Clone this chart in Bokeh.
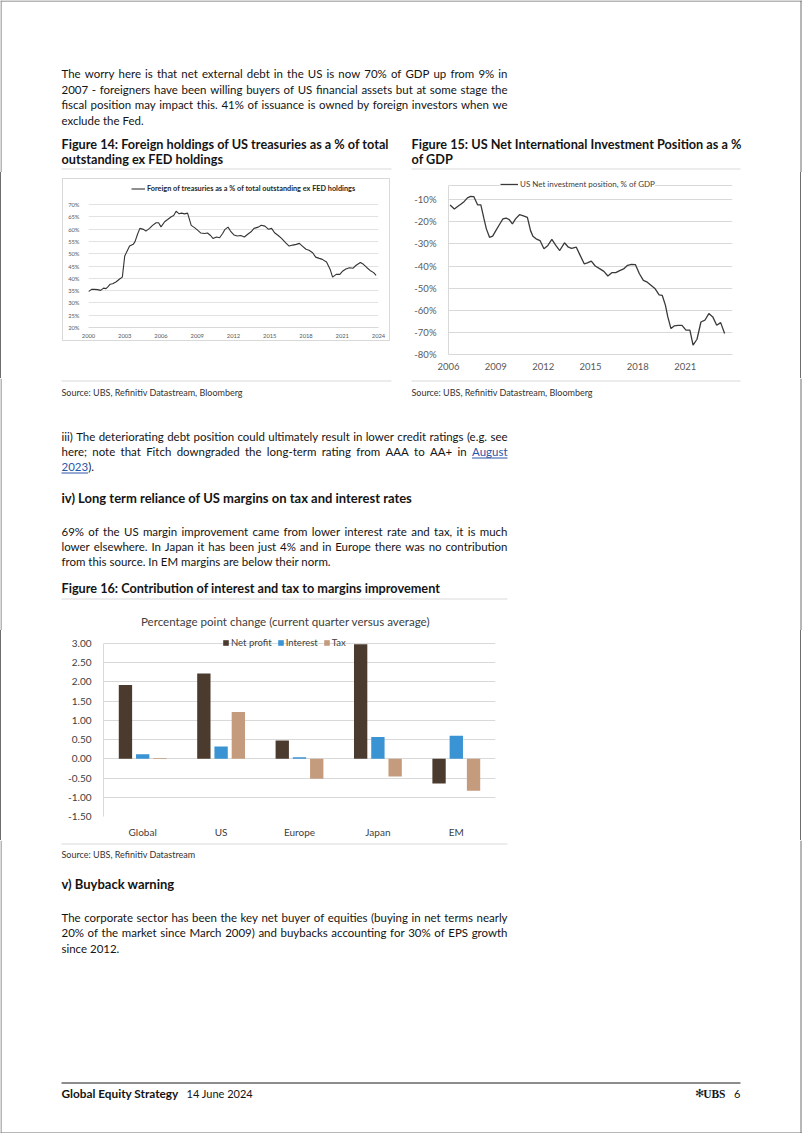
import glob
import subprocess

from bokeh.plotting import figure
from bokeh.models import (Range1d, FactorRange, FixedTicker, PrintfTickFormatter,
                          NumeralTickFormatter, Span, Spacer, Legend, LegendItem,
                          ColumnDataSource)
from bokeh.layouts import column, row
from bokeh.transform import dodge
from bokeh.core.properties import value
from bokeh.embed import file_html
from bokeh.resources import INLINE

# ---------------- data ----------------
# Figure 14: Foreign holdings of US treasuries, % of total outstanding ex Fed
fh_year = [2000.0, 2000.25, 2000.5, 2000.75, 2001.0, 2001.25, 2001.45, 2001.6, 2001.8, 2002.0,
           2002.3, 2002.55, 2002.8, 2003.0, 2003.2, 2003.4, 2003.7, 2003.85, 2004.05, 2004.25,
           2004.55, 2004.75, 2005.05, 2005.3, 2005.6, 2005.8, 2006.0, 2006.3, 2006.55, 2006.85,
           2007.05, 2007.25, 2007.5, 2007.7, 2007.95, 2008.2, 2008.5, 2008.8, 2009.05, 2009.3,
           2009.6, 2009.85, 2010.1, 2010.3, 2010.6, 2010.85, 2011.1, 2011.3, 2011.55, 2011.75,
           2012.05, 2012.3, 2012.6, 2012.9, 2013.15, 2013.45, 2013.7, 2014.05, 2014.3, 2014.6,
           2014.9, 2015.15, 2015.4, 2015.7, 2016.0, 2016.3, 2016.6, 2016.9, 2017.2, 2017.45,
           2017.7, 2018.0, 2018.25, 2018.55, 2018.8, 2019.1, 2019.35, 2019.7, 2020.0, 2020.2,
           2020.5, 2020.8, 2021.05, 2021.3, 2021.6, 2021.9, 2022.15, 2022.5, 2022.75, 2023.05,
           2023.3, 2023.6, 2023.8]
fh_pct = [34.6, 35.5, 35.5, 35.4, 35.1, 36.0, 35.8, 36.5, 37.6, 37.8,
          38.6, 39.6, 40.5, 49.1, 51.1, 53.1, 53.8, 54.9, 57.8, 60.3,
          59.9, 59.2, 60.3, 61.5, 62.6, 62.6, 60.9, 63.0, 63.9, 65.0,
          65.5, 67.3, 66.2, 66.5, 66.2, 66.5, 61.5, 60.5, 59.5, 58.4,
          58.2, 58.4, 57.4, 56.2, 56.8, 56.5, 58.2, 59.9, 60.8, 59.2,
          57.6, 57.2, 57.4, 56.8, 57.8, 58.9, 60.3, 60.8, 61.6, 61.2,
          59.9, 60.3, 58.5, 57.4, 56.1, 54.5, 53.1, 53.5, 53.8, 54.2,
          53.1, 51.8, 51.4, 50.4, 48.6, 48.1, 47.7, 46.6, 43.6, 40.5,
          41.6, 41.6, 43.0, 43.8, 44.3, 44.1, 45.3, 46.4, 45.7, 44.3,
          43.2, 42.3, 41.2]
fh_xticks = [2000, 2003, 2006, 2009, 2012, 2015, 2018, 2021, 2024]
fh_yticks = [20, 25, 30, 35, 40, 45, 50, 55, 60, 65, 70]
fh_label = "Foreign of treasuries as a % of total outstanding ex FED holdings"

# Figure 15: US Net International Investment Position, % of GDP
niip_year = [2006.1, 2006.37, 2006.6, 2006.8, 2007.0, 2007.2, 2007.4, 2007.6, 2007.85, 2008.05,
             2008.25, 2008.4, 2008.6, 2008.8, 2009.0, 2009.25, 2009.45, 2009.65, 2009.85, 2010.05,
             2010.25, 2010.5, 2010.75, 2011.0, 2011.2, 2011.35, 2011.55, 2011.8, 2012.05, 2012.3,
             2012.55, 2012.8, 2013.05, 2013.35, 2013.6, 2013.8, 2014.1, 2014.3, 2014.6, 2014.8,
             2015.05, 2015.3, 2015.6, 2015.85, 2016.1, 2016.35, 2016.6, 2016.85, 2017.1, 2017.35,
             2017.6, 2017.85, 2018.1, 2018.35, 2018.6, 2018.85, 2019.1, 2019.35, 2019.55, 2019.75,
             2019.9, 2020.1, 2020.3, 2020.55, 2020.8, 2021.05, 2021.3, 2021.5, 2021.75, 2022.0,
             2022.25, 2022.5, 2022.75, 2023.0, 2023.25, 2023.5]
niip_pct = [-12.4, -14.2, -13.0, -12.0, -10.8, -9.2, -8.5, -8.6, -12.4, -12.4,
            -18.7, -23.2, -27.0, -26.5, -24.0, -21.0, -18.7, -18.3, -19.0, -21.0,
            -18.7, -16.8, -17.3, -18.0, -24.0, -26.5, -27.7, -28.5, -32.2, -30.7,
            -28.0, -30.7, -33.0, -29.5, -31.5, -32.0, -31.5, -34.5, -39.0, -38.6,
            -37.8, -40.0, -41.3, -42.4, -44.5, -43.0, -43.0, -42.1, -41.3, -39.7,
            -39.3, -39.4, -43.5, -46.5, -47.3, -48.8, -50.3, -53.0, -53.3, -57.8,
            -63.0, -68.3, -67.1, -66.8, -66.8, -69.0, -69.0, -75.8, -73.1, -65.3,
            -64.5, -61.5, -63.0, -66.8, -65.6, -70.5]
niip_xticks = [2006, 2009, 2012, 2015, 2018, 2021]
niip_yticks = [-80, -70, -60, -50, -40, -30, -20, -10]
niip_label = "US Net investment position, % of GDP"

# Figure 16: contribution of interest and tax to margins improvement (pp)
regions = ["Global", "US", "Europe", "Japan", "EM"]
net_profit = [1.92, 2.22, 0.48, 2.98, -0.64]
interest = [0.12, 0.32, 0.04, 0.57, 0.60]
tax = [0.02, 1.22, -0.52, -0.46, -0.83]
m_yticks = [-1.5, -1.0, -0.5, 0.0, 0.5, 1.0, 1.5, 2.0, 2.5, 3.0]
m_title = "Percentage point change (current quarter versus average)"

# ---------------- page text ----------------
p1_lines = ["The worry here is that net external debt in the US is now 70% of GDP up from 9% in",
            "2007 - foreigners have been willing buyers of US financial assets but at some stage the",
            "fiscal position may impact this. 41% of issuance is owned by foreign investors when we",
            "exclude the Fed."]
p2_lines = ["iii) The deteriorating debt position could ultimately result in lower credit ratings (e.g. see",
            "here; note that Fitch downgraded the long-term rating from AAA to AA+ in August",
            "2023)."]
p3_lines = ["69% of the US margin improvement came from lower interest rate and tax, it is much",
            "lower elsewhere. In Japan it has been just 4% and in Europe there was no contribution",
            "from this source. In EM margins are below their norm."]
p4_lines = ["The corporate sector has been the key net buyer of equities (buying in net terms nearly",
            "20% of the market since March 2009) and buybacks accounting for 30% of EPS growth",
            "since 2012."]

# ---------------- styles ----------------
FONT = "Lato"
BODY = "#141414"
GRID = "#d9d9d9"
TICK = "#595959"
C_NP = "#4b3a2e"
C_INT = "#3a93d2"
C_TAX = "#c49b7c"
LINK = "#2a56a8"
EDGE = "#6e6e6e"
HS = "12.7px"    # figure-title size
SS = "13px"      # section heading size
W = 802
X0, X1 = 61, 507


def find_font(name, fname):
    try:
        from PIL import ImageFont
    except Exception:
        return None
    paths = []
    try:
        out = subprocess.run(["fc-match", "-f", "%{file}", name + ":style=Regular"],
                             capture_output=True, text=True, timeout=10).stdout.strip()
        if out and name.lower() in out.lower():
            paths.append(out)
    except Exception:
        pass
    for d in ("/usr/share/fonts", "/usr/local/share/fonts"):
        paths += glob.glob(d + "/**/" + fname, recursive=True)
    for pth in paths:
        try:
            return ImageFont.truetype(pth, 1000)
        except Exception:
            pass
    return None


METRIC = find_font("Lato", "Lato-Regular.ttf")


def tw(s, fs):
    if METRIC is None:
        return len(s) * 0.5 * fs
    return METRIC.getlength(s) * fs / 1000.0


# body size: largest size (<= 12px) at which every justified line fits the column
just_lines = p1_lines[:3] + p2_lines[:2] + p3_lines[:2] + p4_lines[:2]
if METRIC is not None:
    BFS = min([12.0] + [(X1 - X0 - 6) / tw(s, 1.0) for s in just_lines])
else:
    BFS = 11.5
BS = "%.2fpx" % BFS


def text_fig(y0, y1):
    p = figure(width=W, height=y1 - y0, x_range=Range1d(0, W), y_range=Range1d(y1, y0),
               x_axis_type=None, y_axis_type=None, toolbar_location=None,
               output_backend="svg", min_border=0, outline_line_color=None)
    p.background_fill_color = "white"
    p.border_fill_color = "white"
    # page edge
    p.segment(x0=[0.5, W - 1.5], y0=[y0, y0], x1=[0.5, W - 1.5], y1=[y1, y1],
              line_color=EDGE, line_width=1)
    return p


def put(p, x, y, s, size=None, bold=False, color=BODY, align="left", font=FONT):
    p.text(x=[x], y=[y], text=[s], text_font=value(font), text_font_size=size or BS,
           text_font_style="bold" if bold else "normal", text_color=color,
           text_align=align, text_baseline="middle")


def hline(p, x0, x1, y, color=GRID, w=1):
    p.segment(x0=[x0], y0=[y], x1=[x1], y1=[y], line_color=color, line_width=w)


def jline(p, y, s, last_color=BODY):
    words = s.split(" ")
    ws = [tw(w, BFS) for w in words]
    gap = (X1 - X0 - sum(ws)) / (len(words) - 1)
    xs, x = [], X0
    for w in ws:
        xs.append(x)
        x += w + gap
    p.text(x=xs[:-1], y=[y] * (len(words) - 1), text=words[:-1], text_font=value(FONT),
           text_font_size=BS, text_color=BODY, text_align="left", text_baseline="middle")
    put(p, X1, y, words[-1], align="right", color=last_color)
    return ws[-1]


def gline(w, h, color=GRID):
    return Spacer(width=w, height=h, styles={"background-color": color})


def style_axes(p, size, color=TICK):
    for ax in (p.xaxis, p.yaxis):
        ax.major_tick_line_color = None
        ax.minor_tick_line_color = None
        ax.major_label_text_font = FONT
        ax.major_label_text_font_size = size
        ax.major_label_text_color = color


def legend_style(**kw):
    base = dict(padding=0, margin=0, border_line_color=None, background_fill_alpha=0,
                spacing=0, label_text_font=FONT)
    base.update(kw)
    return base


# ---------------- text block 1 ----------------
t1 = text_fig(0, 172)
hline(t1, 0, W, 0.5, color=EDGE)
for yy, s in zip([73, 89, 104], p1_lines[:3]):
    jline(t1, yy, s)
put(t1, X0, 120, p1_lines[3])
put(t1, 61, 143, "Figure 14: Foreign holdings of US  treasuries as a % of total", size=HS, bold=True)
put(t1, 61, 158, "outstanding ex FED holdings", size=HS, bold=True)
put(t1, 411, 143, "Figure 15: US Net International Investment Position as a %", size=HS, bold=True)
put(t1, 411, 158, "of GDP", size=HS, bold=True)
hline(t1, 61, 391, 168.5)
hline(t1, 411, 740, 168.5)

# ---------------- Figure 14 ----------------
# canvas = page (63..388, 179..339); frame x 88..377, 20% at y=327
p14 = figure(width=326, height=161, x_range=Range1d(2000, 2024), y_range=Range1d(20, 79.35),
             toolbar_location=None, output_backend="svg", outline_line_color=None,
             min_border_left=25, min_border_right=11, min_border_top=2, min_border_bottom=12)
r14 = p14.line(fh_year, fh_pct, line_color="#333333", line_width=1.1)
p14.xaxis.ticker = FixedTicker(ticks=fh_xticks)
p14.yaxis.ticker = FixedTicker(ticks=fh_yticks)
p14.yaxis.formatter = PrintfTickFormatter(format="%d%%")
style_axes(p14, "5.8px")
p14.xaxis.axis_line_color = GRID
p14.yaxis.axis_line_color = None
p14.xaxis.major_label_standoff = 0
p14.yaxis.major_label_standoff = 3
p14.xgrid.grid_line_color = None
p14.ygrid.grid_line_color = "#e2e2e2"
p14.add_layout(Legend(items=[LegendItem(label=fh_label, renderers=[r14])], location=(43, 134),
                      **legend_style(glyph_width=14, glyph_height=9, label_height=9,
                                     label_standoff=2, label_text_font_size="7.3px",
                                     label_text_font_style="bold", label_text_color="#262626")))

box14 = column(gline(328, 1),
               row(gline(1, 161), p14, gline(1, 161)),
               gline(328, 1))
col14 = column(Spacer(width=328, height=6), box14, Spacer(width=328, height=37))

# ---------------- Figure 15 ----------------
# canvas = page (411..740, 172..378); frame x 439..731, y 176..354 (-80%)
p15 = figure(width=330, height=206, x_range=Range1d(2006, 2024), y_range=Range1d(-80, 0.47),
             toolbar_location=None, output_backend="svg", outline_line_color=None,
             min_border_left=28, min_border_right=9, min_border_top=4, min_border_bottom=24)
r15 = p15.line(niip_year, niip_pct, line_color="#3a3a3a", line_width=1.3)
p15.xaxis.ticker = FixedTicker(ticks=niip_xticks)
p15.yaxis.ticker = FixedTicker(ticks=niip_yticks)
p15.yaxis.formatter = PrintfTickFormatter(format="%d%%")
style_axes(p15, "9.5px")
p15.xaxis.axis_line_color = GRID
p15.yaxis.axis_line_color = GRID
p15.yaxis.bounds = (-80, -3.6)
p15.xaxis.major_label_standoff = 2
p15.yaxis.major_label_standoff = 6
p15.xgrid.grid_line_color = None
p15.ygrid.grid_line_color = GRID
p15.add_layout(Span(location=-3.6, dimension="width", line_color=GRID, line_width=1))
p15.add_layout(Legend(items=[LegendItem(label=niip_label, renderers=[r15])], location=(52, 165),
                      **legend_style(glyph_width=18, glyph_height=10, label_height=10,
                                     label_standoff=2, label_text_font_size="8px",
                                     label_text_color="#404040",
                                     background_fill_color="white", background_fill_alpha=1)))

charts_row = row(gline(1, 206, EDGE), Spacer(width=61, height=206), col14,
                 Spacer(width=21, height=206), p15, Spacer(width=59, height=206),
                 gline(1, 206, EDGE), Spacer(width=1, height=206))

# ---------------- text block 2 ----------------
t2 = text_fig(378, 630)
hline(t2, 61, 391, 380.5)
hline(t2, 411, 740, 380.5)
put(t2, 61, 392, "Source: UBS, Refinitiv Datastream, Bloomberg", size="9px", color="#333333")
put(t2, 411, 392, "Source: UBS, Refinitiv Datastream, Bloomberg", size="9px", color="#333333")
jline(t2, 436, p2_lines[0])
wa = jline(t2, 451, p2_lines[1], last_color=LINK)
hline(t2, X1 - wa, X1, 457.5, color=LINK)
w23 = tw("2023", BFS)
put(t2, X0, 466, "2023", color=LINK)
hline(t2, X0, X0 + w23, 472.5, color=LINK)
put(t2, X0 + w23, 466, ").")
put(t2, 61, 497, "iv) Long term reliance of US margins on tax and interest rates", size=SS, bold=True)
for yy, s in zip([531, 546], p3_lines[:2]):
    jline(t2, yy, s)
put(t2, X0, 561, p3_lines[2])
put(t2, 61, 587, "Figure 16: Contribution of interest and tax to margins improvement", size=HS, bold=True)
hline(t2, 61, 507, 598.5)
put(t2, 285, 621, m_title, size="11.6px", color="#404040", align="center")

# ---------------- Figure 16 ----------------
# canvas = page (61..506, 630..840); frame x 103..495, 3.00 at 643, -1.50 at 816
src = ColumnDataSource(dict(region=regions, net_profit=net_profit, interest=interest, tax=tax))
p16 = figure(width=446, height=210, x_range=FactorRange(factors=regions), y_range=Range1d(-1.5, 3.338),
             toolbar_location=None, output_backend="svg", outline_line_color=None,
             min_border_left=42, min_border_right=12, min_border_top=0, min_border_bottom=24)
b1 = p16.vbar(x=dodge("region", -0.22, range=p16.x_range), top="net_profit", bottom=0, width=0.17,
              source=src, fill_color=C_NP, line_color=None)
b2 = p16.vbar(x=dodge("region", 0.0, range=p16.x_range), top="interest", bottom=0, width=0.17,
              source=src, fill_color=C_INT, line_color=None)
b3 = p16.vbar(x=dodge("region", 0.22, range=p16.x_range), top="tax", bottom=0, width=0.17,
              source=src, fill_color=C_TAX, line_color=None)
p16.yaxis.ticker = FixedTicker(ticks=m_yticks)
p16.yaxis.formatter = NumeralTickFormatter(format="0.00")
p16.yaxis.bounds = (-1.5, 3.0)
style_axes(p16, "10px", color="#404040")
p16.xaxis.axis_line_color = None
p16.yaxis.axis_line_color = GRID
p16.xaxis.major_label_standoff = 3
p16.yaxis.major_label_standoff = 6
p16.xgrid.grid_line_color = None
p16.ygrid.grid_line_color = GRID
p16.add_layout(Legend(items=[LegendItem(label="Net profit", renderers=[b1]),
                             LegendItem(label="Interest", renderers=[b2]),
                             LegendItem(label="Tax", renderers=[b3])],
                      orientation="horizontal", location=(119, 168),
                      **legend_style(glyph_width=7, glyph_height=7, label_height=10,
                                     label_standoff=2, label_text_font_size="9.5px",
                                     label_text_color="#404040", spacing=5)))

row16 = row(gline(1, 210, EDGE), Spacer(width=60, height=210), p16,
            Spacer(width=W - 61 - 446 - 2, height=210), gline(1, 210, EDGE),
            Spacer(width=1, height=210))

# ---------------- text block 3 ----------------
t3 = text_fig(840, 1133)
hline(t3, 61, 507, 843.5)
put(t3, 61, 854, "Source: UBS, Refinitiv Datastream", size="9px", color="#333333")
put(t3, 61, 883, "v) Buyback warning", size=SS, bold=True)
for yy, s in zip([917, 932], p4_lines[:2]):
    jline(t3, yy, s)
put(t3, X0, 948, p4_lines[2])
hline(t3, 61, 740, 1082.5, color="#1a1a1a")
put(t3, 61, 1093, "Global Equity Strategy", size="11.8px", bold=True)
put(t3, 186, 1093, "14 June 2024", size="11px")
put(t3, 699, 1093, "\u273b", size="11px", align="center", font="DejaVu Sans", color="#222222")
put(t3, 725, 1093, "UBS", size="11.5px", bold=True, align="right", font="Liberation Serif")
put(t3, 740, 1093, "6", size="11px", align="right")
hline(t3, 0, W, 1132.5, color=EDGE)

page = column(t1, charts_row, t2, row16, t3)

open("out.html", "w").write(file_html(page, INLINE))
